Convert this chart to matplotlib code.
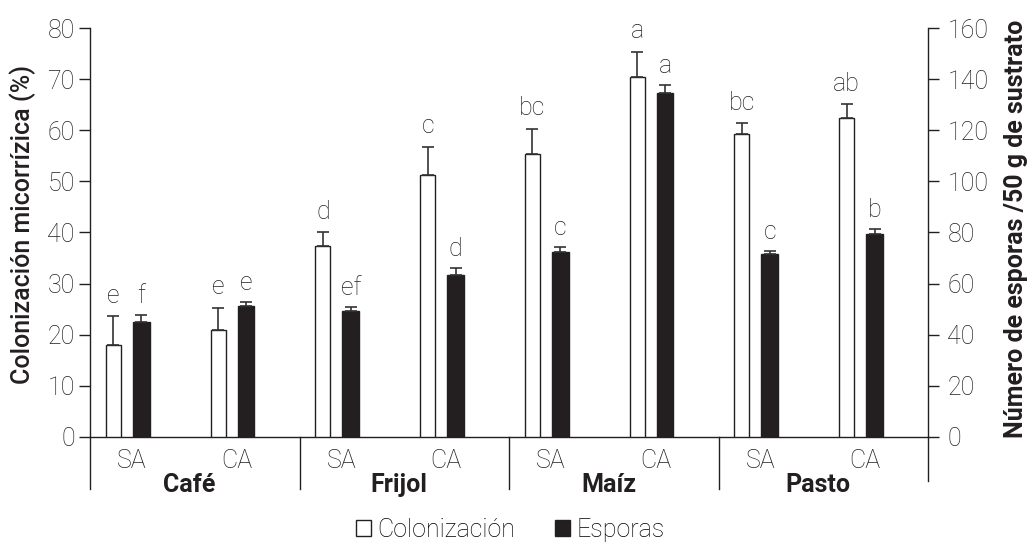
import matplotlib
matplotlib.use("Agg")
import matplotlib.pyplot as plt
from matplotlib.patches import Patch
import numpy as np

plt.rcParams['font.family'] = ['Roboto', 'DejaVu Sans']

cultivos = ["Café", "Frijol", "Maíz", "Pasto"]
tratamientos = ["SA", "CA"]
colonizacion = [18.0, 21.0, 37.4, 51.2, 55.3, 70.4, 59.3, 62.4]
colonizacion_err = [5.7, 4.3, 2.6, 5.6, 5.0, 5.0, 2.1, 2.7]
esporas = [45.1, 51.1, 49.3, 63.4, 72.5, 134.7, 71.5, 79.5]
esporas_err = [2.6, 1.9, 1.7, 2.6, 2.0, 3.0, 1.4, 2.0]
letras_col = ["e", "e", "d", "c", "bc", "a", "bc", "ab"]
letras_esp = ["f", "e", "ef", "d", "c", "a", "c", "b"]

TXT = "#231f20"
FS = 18

fig = plt.figure(figsize=(10.32, 5.45), dpi=100)
ax = fig.add_axes([90/1032, 1-437/545, 838/1032, 409/545])
ax2 = ax.twinx()

n = len(colonizacion)
idx = np.arange(n)
xw = idx + 0.224
xb = idx + 0.49

ax.bar(xw, colonizacion, width=0.143, color="white", edgecolor=TXT, linewidth=1.0, zorder=3)
ax.errorbar(xw, colonizacion, yerr=[np.zeros(n), colonizacion_err], fmt="none",
            ecolor="#333333", elinewidth=1.2, capsize=4.5, capthick=1.2, zorder=4)
ax2.bar(xb, esporas, width=0.16, color=TXT, edgecolor=TXT, linewidth=1.0, zorder=3)
ax2.errorbar(xb, esporas, yerr=[np.zeros(n), esporas_err], fmt="none",
             ecolor="#333333", elinewidth=1.2, capsize=4.5, capthick=1.2, zorder=4)

for x, v, e, t in zip(xw, colonizacion, colonizacion_err, letras_col):
    ax.annotate(t, (x, v + e), xytext=(0, 6), textcoords="offset points",
                ha="center", va="bottom", fontsize=FS, fontweight="light", color=TXT)
for x, v, e, t in zip(xb, esporas, esporas_err, letras_esp):
    ax2.annotate(t, (x, v + e), xytext=(0, 5), textcoords="offset points",
                 ha="center", va="bottom", fontsize=FS, fontweight="light", color=TXT)

ax.set_xlim(0, n)
ax.set_ylim(0, 80)
ax2.set_ylim(0, 160)
ax.set_yticks(np.arange(0, 81, 10))
ax2.set_yticks(np.arange(0, 161, 20))

for a in (ax, ax2):
    a.spines["top"].set_visible(False)
    for s in a.spines.values():
        s.set_color(TXT)
        s.set_linewidth(1.0)
ax.spines["right"].set_visible(False)
ax2.spines["left"].set_visible(False)
ax2.spines["bottom"].set_visible(False)

ax.tick_params(axis="y", direction="out", length=8, width=1.0, color=TXT,
               labelsize=FS, labelcolor=TXT, pad=3)
ax2.tick_params(axis="y", direction="out", length=8, width=1.0, color=TXT,
                labelsize=FS, labelcolor=TXT, pad=6)
for lab in ax.get_yticklabels() + ax2.get_yticklabels():
    lab.set_fontweight("light")

# x ticks: treatment labels
ax.set_xticks(idx + 0.4)
ax.set_xticklabels(tratamientos * len(cultivos), fontsize=FS, fontweight="light", color=TXT)
ax.tick_params(axis="x", length=0, pad=9)

# group separators below axis
trans = ax.get_xaxis_transform()
for g in range(len(cultivos) + 1):
    bottom = -0.126 if g < len(cultivos) else -0.108
    ax.plot([2*g, 2*g], [0, bottom], transform=trans, color=TXT, lw=1.0, clip_on=False)
for g, c in enumerate(cultivos):
    ax.text(2*g + 0.95, -0.117, c, transform=trans, ha="center", va="center",
            fontsize=FS, fontweight="bold", color=TXT)

fig.text(23/1032, 1-224/545, "Colonización micorrízica (%)", rotation=90,
         ha="center", va="center", fontsize=FS, fontweight="medium", color=TXT)
fig.text(1016/1032, 1-229/545, "Número de esporas /50 g de sustrato", rotation=90,
         ha="center", va="center", fontsize=FS, fontweight="bold", color=TXT)

handles = [Patch(facecolor="white", edgecolor=TXT, linewidth=1.0, label="Colonización"),
           Patch(facecolor=TXT, edgecolor=TXT, label="Esporas")]
fig.legend(handles=handles, loc="center", bbox_to_anchor=(510/1032, 1-530/545), ncol=2,
           frameon=False, handlelength=0.6, handleheight=0.6, borderpad=0.1,
           handletextpad=0.25, columnspacing=1.6, prop={"weight": "light", "size": FS})

fig.savefig("out.png", dpi=100)
